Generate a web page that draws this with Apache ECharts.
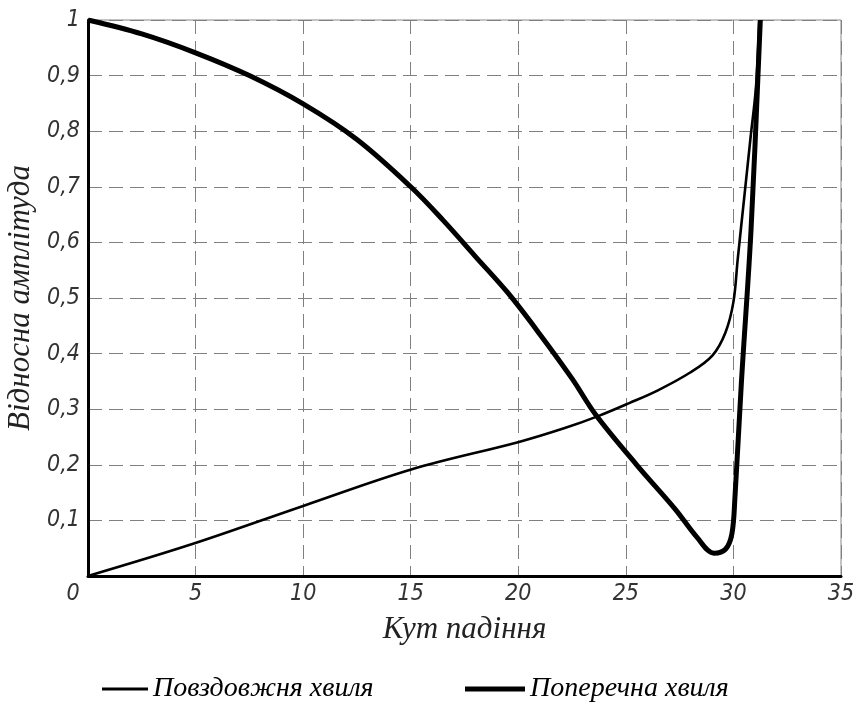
<!DOCTYPE html>
<html>
<head>
<meta charset="utf-8">
<script src="https://cdn.jsdelivr.net/npm/echarts@6/dist/echarts.min.js"></script>
<style>
html,body{margin:0;padding:0;background:#fff;}
#c{width:854px;height:704px;}
</style>
</head>
<body>
<div id="c"></div>
<script>
// X ticks and Y ticks
const xTicks = [0, 5, 10, 15, 20, 25, 30, 35];
const yTicks = [0, 0.1, 0.2, 0.3, 0.4, 0.5, 0.6, 0.7, 0.8, 0.9, 1];

// Повздовжня хвиля (thin line)
const longX = [0, 4.81, 10, 15.06, 20.03, 22.16, 23.74, 25.16, 26.49, 27.99, 29.03, 29.63, 30.0, 30.2, 30.5, 30.8, 31.05, 31.2];
const longY = [0, 0.057, 0.126, 0.192, 0.241, 0.266, 0.288, 0.311, 0.334, 0.366, 0.397, 0.438, 0.493, 0.57, 0.68, 0.79, 0.88, 1.0];

// Поперечна хвиля (thick line)
const transX = [0, 2.5, 5, 7.5, 10, 12.5, 15, 16.5, 18, 19.5, 21, 22.5, 23.6, 25.5, 27.3, 28.3, 29.1, 29.63, 29.93, 30.07, 30.37, 30.82, 31.25];
const transY = [1.0, 0.975, 0.941, 0.9, 0.849, 0.785, 0.7, 0.64, 0.575, 0.51, 0.435, 0.355, 0.29, 0.2, 0.12, 0.07, 0.041, 0.048, 0.076, 0.141, 0.348, 0.624, 1.0];

const names = ['Повздовжня хвиля', 'Поперечна хвиля'];
const axisNames = ['Кут падіння', 'Відносна амплітуда'];

const tickFont = "'Liberation Sans Narrow', 'DejaVu Sans Condensed', sans-serif";
const serif = "'Liberation Serif', 'DejaVu Serif', serif";

const chart = echarts.init(document.getElementById('c'), null, {renderer: 'canvas'});
const zip = (a, b) => a.map((v, i) => [v, b[i]]);
const legText = {fontFamily: serif, fontStyle: 'italic', fontSize: 28, color: '#000'};

chart.setOption({
  animation: false,
  backgroundColor: '#fff',
  grid: {left: 88, right: 13, top: 20, bottom: 128, show: true, borderColor: '#888', borderWidth: 1,
         containLabel: false, outerBoundsMode: 'none'},
  legend: [
    {data: [names[0]], left: 97, top: 670, icon: 'rect', itemWidth: 46, itemHeight: 3, itemGap: 4, textStyle: legText},
    {data: [names[1]], left: 460, top: 670, icon: 'rect', itemWidth: 60, itemHeight: 5, itemGap: 4, textStyle: legText}
  ],
  xAxis: {
    type: 'value', min: xTicks[0], max: xTicks[xTicks.length - 1], interval: 5,
    name: axisNames[0], nameLocation: 'middle', nameGap: 38,
    nameTextStyle: {fontFamily: serif, fontStyle: 'italic', fontSize: 31, color: '#222'},
    axisLine: {show: true, lineStyle: {color: '#000', width: 3}},
    axisTick: {show: false},
    splitLine: {show: true, lineStyle: {color: '#808080', width: 1, type: [14, 7]}},
    axisLabel: {
      margin: 7, fontFamily: tickFont, fontStyle: 'italic', fontSize: 23, color: '#333',
      formatter: v => v === 0 ? '{z|0}' : String(v),
      rich: {z: {fontFamily: tickFont, fontStyle: 'italic', fontSize: 23, color: '#333', padding: [0, 30, 0, 0]}}
    }
  },
  yAxis: {
    type: 'value', min: yTicks[0], max: yTicks[yTicks.length - 1], interval: 0.1,
    name: axisNames[1], nameLocation: 'middle', nameGap: 47,
    nameTextStyle: {fontFamily: serif, fontStyle: 'italic', fontSize: 31, color: '#222'},
    axisLine: {show: true, lineStyle: {color: '#000', width: 3}},
    axisTick: {show: false},
    splitLine: {show: true, lineStyle: {color: '#808080', width: 1, type: [14, 7]}},
    axisLabel: {
      margin: 8, showMinLabel: false, fontFamily: tickFont, fontStyle: 'italic', fontSize: 23, color: '#333',
      formatter: v => String(Math.round(v * 10) / 10).replace('.', ',')
    }
  },
  series: [
    {name: names[0], type: 'line', data: zip(longX, longY), symbol: 'none', smooth: 0.35,
     lineStyle: {color: '#000', width: 2.6}, itemStyle: {color: '#000'}, z: 3},
    {name: names[1], type: 'line', data: zip(transX, transY), symbol: 'none', smooth: 0.35,
     lineStyle: {color: '#000', width: 5}, itemStyle: {color: '#000'}, z: 4}
  ]
});
</script>
</body>
</html>
